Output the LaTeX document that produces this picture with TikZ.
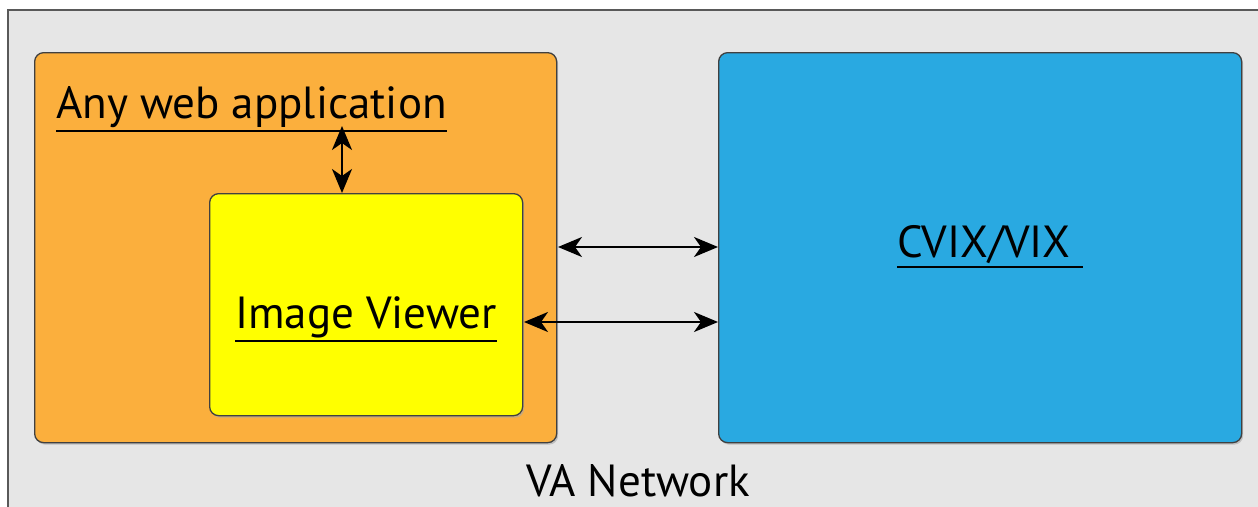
\documentclass[tikz,border=0pt]{standalone}
\usepackage{fontspec}
\setmainfont{PT Sans}
\usetikzlibrary{arrows.meta,shadows}
\definecolor{netgray}{HTML}{E6E6E6}
\definecolor{apporange}{HTML}{FBAF3D}
\definecolor{viewyellow}{HTML}{FFFF00}
\definecolor{vixblue}{HTML}{29A9E1}
\newcommand\ulbox[1]{\leavevmode\vtop{\hbox{#1}\kern2.5pt\hrule height 2pt}}
\tikzset{
  boxstyle/.style={draw=black!75, line width=1.3pt, rounded corners=9pt,
    drop shadow={shadow xshift=1.5pt, shadow yshift=-2pt, fill=black!35, opacity=0.6}},
  tipstyle/.style={Stealth[length=24pt,width=20pt,inset=7pt]},
  link/.style={line width=2.2pt, {Stealth[length=24pt,width=20pt,inset=7pt]}-{Stealth[length=24pt,width=20pt,inset=7pt]}},
  lbl/.style={font=\fontsize{45}{50}\selectfont, inner sep=0pt, anchor=base}
}
\begin{document}
\begin{tikzpicture}[x=1pt,y=-1pt]
\useasboundingbox (0,0) rectangle (1258,506);
\fill[white] (0,0) rectangle (1258,506);
\draw[fill=netgray, draw=black!65, line width=1.5pt] (1270,520) -- (8,520) -- (8,10) -- (1270,10);
\node[boxstyle, fill=apporange, minimum width=522pt, minimum height=390pt, anchor=north west] (app) at (34,52) {};
\node[boxstyle, fill=viewyellow, minimum width=313pt, minimum height=222pt, anchor=north west] (viewer) at (209,193) {};
\node[boxstyle, fill=vixblue, minimum width=523pt, minimum height=390pt, anchor=north west] (vix) at (718,52) {};
\node[lbl, anchor=base west] (apptext) at (56,118) {\ulbox{Any web application}};
\node[lbl] (viewtext) at (366,328) {\ulbox{Image Viewer}};
\node[lbl] (vixtext) at (990,257) {\ulbox{CVIX/VIX\ }};
\node[lbl] (net) at (638,496) {VA Network};
\coordinate (upa) at (342,126);
\draw[link] (upa) -- (upa |- viewer.north);
\coordinate (r1) at (558,247);
\draw[link] (r1) -- (r1 -| vix.west);
\coordinate (r2) at (524,322);
\draw[link] (r2) -- (r2 -| vix.west);
\end{tikzpicture}
\end{document}
